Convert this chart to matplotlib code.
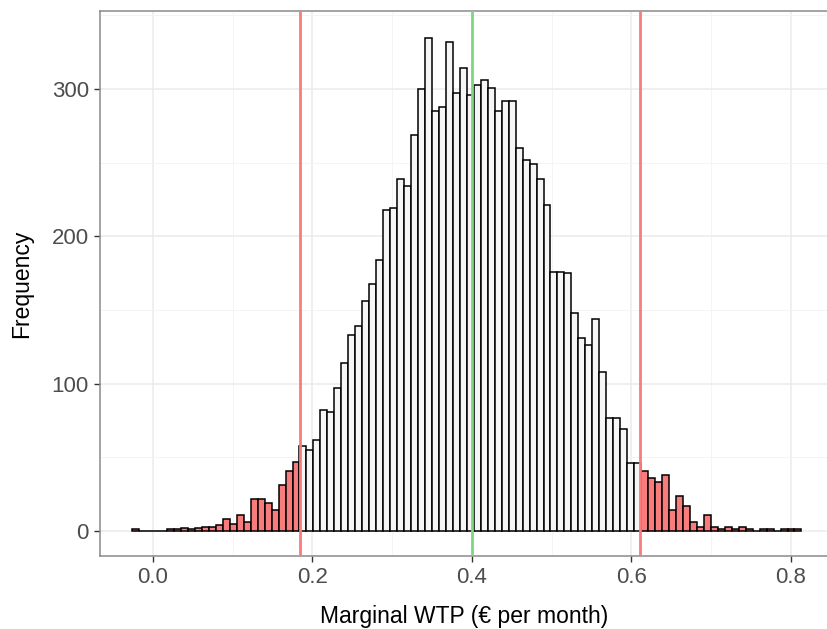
import numpy as np
import matplotlib
matplotlib.use("Agg")
import matplotlib.pyplot as plt
from matplotlib.ticker import MultipleLocator

plt.rcParams['font.family'] = ['Liberation Sans', 'DejaVu Sans']

# histogram of simulated marginal WTP draws
bin_start = -0.0259
bin_width = 0.00874
counts = [
    1, 0, 0, 0, 0, 1, 1, 2, 1, 2,
    3, 3, 4, 8, 5, 11, 6, 22, 22, 19,
    14, 31, 41, 47, 58, 55, 62, 82, 81, 97,
    114, 133, 139, 156, 168, 184, 218, 219, 239, 234,
    269, 300, 335, 285, 288, 332, 297, 314, 296, 303,
    306, 301, 285, 292, 292, 260, 252, 249, 239, 221,
    176, 176, 175, 148, 131, 126, 144, 108, 77, 77,
    69, 46, 46, 41, 36, 33, 38, 14, 24, 17,
    6, 3, 11, 3, 1, 3, 1, 3, 1, 0,
    1, 1, 0, 1, 1, 1,
]

# 95% interval and mean
ci_lower = 0.184
ci_upper = 0.611
wtp_mean = 0.3996

counts = np.array(counts)
left_edges = bin_start + bin_width * np.arange(len(counts))
centres = left_edges + bin_width / 2
in_tail = (centres < ci_lower) | (centres > ci_upper)
fill_colours = np.where(in_tail, '#F87C7C', '#F6F6F6')

fig = plt.figure(figsize=(8.28, 6.29), dpi=100)
ax = fig.add_axes([100 / 828, 1 - 556 / 629, 1 - 100 / 828, (556 - 11) / 629])

ax.bar(left_edges, counts, width=bin_width, align='edge',
       color=fill_colours, edgecolor='black', linewidth=1.1, zorder=2)

ax.axvline(ci_lower, color='#F87C7C', linewidth=2.0, zorder=3)
ax.axvline(ci_upper, color='#F87C7C', linewidth=2.0, zorder=3)
ax.axvline(wtp_mean, color='#7DD87D', linewidth=2.0, zorder=3)

ax.set_xlim(-0.0662, 0.8464)
ax.set_ylim(-17, 353)

ax.xaxis.set_major_locator(MultipleLocator(0.2))
ax.xaxis.set_minor_locator(MultipleLocator(0.1))
ax.yaxis.set_major_locator(MultipleLocator(100))
ax.yaxis.set_minor_locator(MultipleLocator(50))
ax.set_xticks([0.0, 0.2, 0.4, 0.6, 0.8])
ax.set_xticklabels(['0.0', '0.2', '0.4', '0.6', '0.8'])

ax.grid(which='major', color='#EBEBEB', linewidth=1.1, zorder=0)
ax.grid(which='minor', color='#F3F3F3', linewidth=0.6, zorder=0)
ax.set_axisbelow(True)

ax.tick_params(which='major', direction='out', length=4, width=1,
               color='#333333', labelsize=16, labelcolor='#4D4D4D', pad=4)
ax.tick_params(which='minor', length=0)

for side in ['left', 'bottom', 'top', 'right']:
    ax.spines[side].set_color('#8A8A8A')
    ax.spines[side].set_linewidth(1.1)

ax.set_xlabel('Marginal WTP (€ per month)', fontsize=16.5, labelpad=12)
ax.set_ylabel('Frequency', fontsize=16.5, labelpad=13)

fig.savefig('out.png', dpi=100)
